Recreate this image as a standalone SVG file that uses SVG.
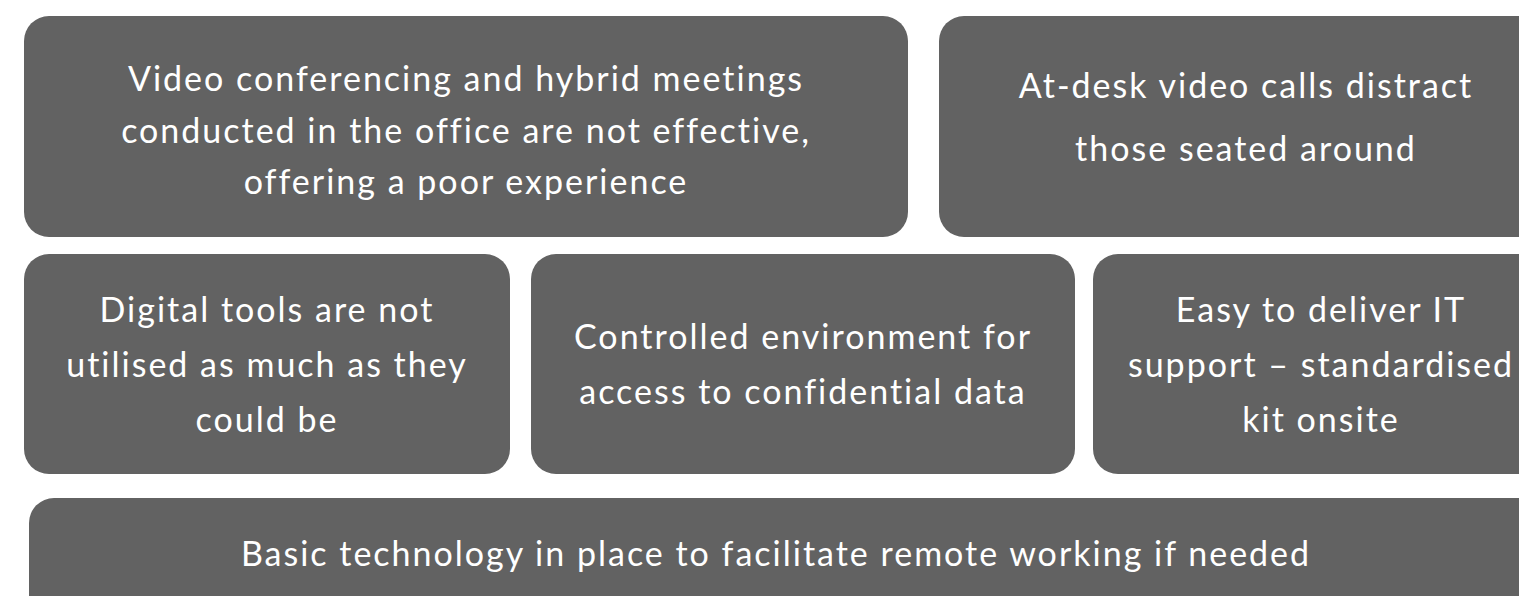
<svg xmlns="http://www.w3.org/2000/svg" width="1519" height="596" viewBox="0 0 1519 596">
<style>
.box{fill:#626262;}
.t{fill:#ffffff;font-family:Lato,"Open Sans","Liberation Sans",sans-serif;font-weight:400;font-size:34px;letter-spacing:2px;text-anchor:middle;}
</style>
<rect width="1519" height="596" fill="#ffffff"/>
<g id="node-video">
<rect class="box" x="24" y="16" width="884" height="221" rx="25"/>
<text class="t" x="466" y="91">Video conferencing and hybrid meetings</text>
<text class="t" x="466" y="143">conducted in the office are not effective,</text>
<text class="t" x="466" y="194">offering a poor experience</text>
</g>
<g id="node-atdesk">
<rect class="box" x="939" y="16" width="620" height="221" rx="25"/>
<text class="t" x="1246" y="98">At-desk video calls distract</text>
<text class="t" x="1246" y="161">those seated around</text>
</g>
<g id="node-digital">
<rect class="box" x="24" y="254" width="486" height="220" rx="25"/>
<text class="t" x="267" y="322">Digital tools are not</text>
<text class="t" x="267" y="377">utilised as much as they</text>
<text class="t" x="267" y="432">could be</text>
</g>
<g id="node-controlled">
<rect class="box" x="531" y="254" width="544" height="220" rx="25"/>
<text class="t" x="803" y="349">Controlled environment for</text>
<text class="t" x="803" y="404">access to confidential data</text>
</g>
<g id="node-easy">
<rect class="box" x="1093" y="254" width="470" height="220" rx="25"/>
<text class="t" x="1321" y="322">Easy to deliver IT</text>
<text class="t" x="1321" y="377">support – standardised</text>
<text class="t" x="1321" y="432">kit onsite</text>
</g>
<g id="node-basic">
<rect class="box" x="29" y="498" width="1530" height="140" rx="25"/>
<text class="t" x="776" y="566">Basic technology in place to facilitate remote working if needed</text>
</g>
<g id="connectors"></g>
</svg>
